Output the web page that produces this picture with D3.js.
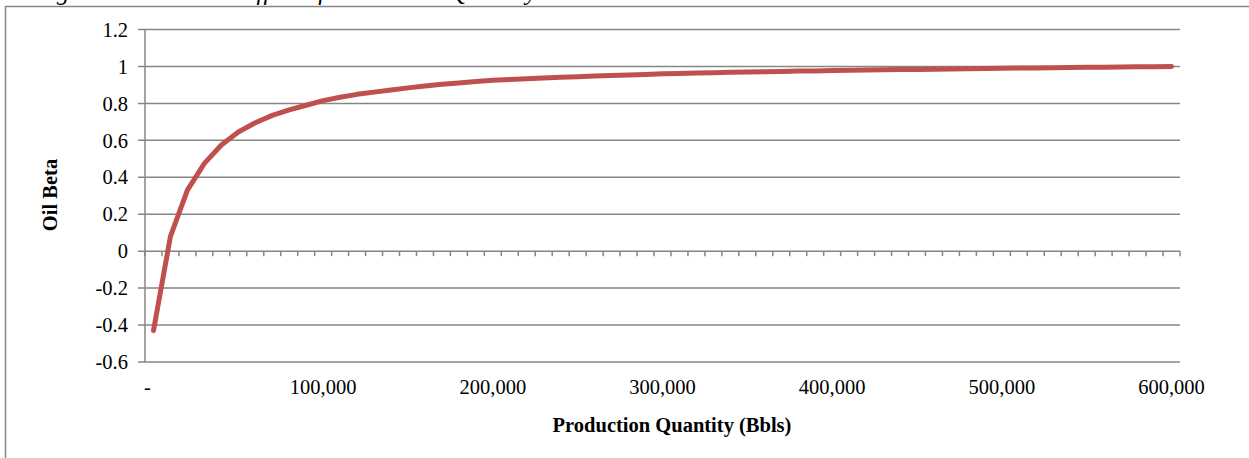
<!DOCTYPE html>
<html lang="en">
<head>
  <meta charset="UTF-8">
  <title>Oil Beta vs Production Quantity</title>
  <script src="https://d3js.org/d3.v7.min.js"></script>
  <style>
    body { margin: 0; background: #fff; }
    svg { display: block; font-family: "Liberation Serif", "Times New Roman", serif; }
  </style>
</head>
<body>
  <svg id="chart"></svg>
  <script>
    // production quantity categories (Bbls)
    const quantity = [
      0, 10000, 20000, 30000, 40000, 50000, 60000, 70000, 80000, 90000,
      100000, 110000, 120000, 130000, 140000, 150000, 160000, 170000, 180000, 190000,
      200000, 210000, 220000, 230000, 240000, 250000, 260000, 270000, 280000, 290000,
      300000, 310000, 320000, 330000, 340000, 350000, 360000, 370000, 380000, 390000,
      400000, 410000, 420000, 430000, 440000, 450000, 460000, 470000, 480000, 490000,
      500000, 510000, 520000, 530000, 540000, 550000, 560000, 570000, 580000, 590000,
      600000
    ];
    // oil beta
    const oilBeta = [
      -0.430, 0.080, 0.330, 0.475, 0.575, 0.645, 0.695, 0.735, 0.765, 0.790,
      0.815, 0.833, 0.849, 0.861, 0.873, 0.884, 0.894, 0.903, 0.911, 0.918,
      0.925, 0.929, 0.933, 0.937, 0.941, 0.944, 0.948, 0.951, 0.954, 0.957,
      0.960, 0.962, 0.964, 0.966, 0.968, 0.970, 0.971, 0.973, 0.975, 0.976,
      0.978, 0.979, 0.981, 0.982, 0.983, 0.984, 0.985, 0.986, 0.987, 0.989,
      0.990, 0.991, 0.992, 0.993, 0.994, 0.995, 0.996, 0.997, 0.998, 0.999,
      1.000
    ];
    const yTicks = [-0.6, -0.4, -0.2, 0, 0.2, 0.4, 0.6, 0.8, 1, 1.2];
    const yLabels = ["-0.6", "-0.4", "-0.2", "0", "0.2", "0.4", "0.6", "0.8", "1", "1.2"];
    const xLabelValues = [0, 100000, 200000, 300000, 400000, 500000, 600000];
    const xLabels = ["-", "100,000", "200,000", "300,000", "400,000", "500,000", "600,000"];

    const width = 1249, height = 458;
    const plot = { left: 145, right: 1180, top: 29.5, bottom: 362 };
    const grey = "#868686";

    const svg = d3.select("#chart")
      .attr("width", width)
      .attr("height", height);

    // figure caption, mostly cut off by the top edge
    svg.append("text")
      .attr("x", 668)
      .attr("y", 0)
      .attr("text-anchor", "end")
      .attr("font-style", "italic")
      .attr("font-size", 25)
      .attr("fill", "#000")
      .text("Figure 4: Simulated Effect of Production Quantity on Oil Betas");

    // chart area border
    svg.append("rect")
      .attr("x", 5.5).attr("y", 6.5)
      .attr("width", 1400).attr("height", 600)
      .attr("fill", "none")
      .attr("stroke", grey)
      .attr("stroke-width", 1.5);

    const xScale = d3.scaleBand()
      .domain(quantity)
      .range([plot.left, plot.right])
      .padding(0);

    const yScale = d3.scaleLinear()
      .domain([-0.6, 1.2])
      .range([plot.bottom, plot.top]);

    const xc = d => xScale(d) + xScale.bandwidth() / 2;

    // horizontal gridlines
    svg.append("g")
      .selectAll("line")
      .data(yTicks)
      .join("line")
      .attr("x1", plot.left - 7)
      .attr("x2", plot.right)
      .attr("y1", d => yScale(d))
      .attr("y2", d => yScale(d))
      .attr("stroke", grey)
      .attr("stroke-width", 1.5);

    // y axis line
    svg.append("line")
      .attr("x1", plot.left).attr("x2", plot.left)
      .attr("y1", plot.top).attr("y2", plot.bottom)
      .attr("stroke", grey)
      .attr("stroke-width", 1.5);

    // y tick labels
    svg.append("g")
      .selectAll("text")
      .data(yTicks)
      .join("text")
      .attr("x", 128)
      .attr("y", d => yScale(d))
      .attr("dy", "0.35em")
      .attr("text-anchor", "end")
      .attr("font-size", 20.5)
      .text((d, i) => yLabels[i]);

    // category tick marks along the zero line
    const tickPos = quantity.map(d => xScale(d)).concat([plot.right]);
    svg.append("g")
      .selectAll("line")
      .data(tickPos)
      .join("line")
      .attr("x1", d => d).attr("x2", d => d)
      .attr("y1", yScale(0))
      .attr("y2", yScale(0) + 5)
      .attr("stroke", grey)
      .attr("stroke-width", 1.5);

    // x labels (every 10th category)
    svg.append("g")
      .selectAll("text")
      .data(xLabelValues)
      .join("text")
      .attr("x", (d, i) => i === 0 ? xc(d) - 6 : xc(d))
      .attr("y", 394)
      .attr("text-anchor", "middle")
      .attr("font-size", 20.5)
      .text((d, i) => xLabels[i]);

    // the curve
    const line = d3.line()
      .x((d, i) => xc(quantity[i]))
      .y(d => yScale(d));

    svg.append("path")
      .datum(oilBeta)
      .attr("d", line)
      .attr("fill", "none")
      .attr("stroke", "#C0504D")
      .attr("stroke-width", 5)
      .attr("stroke-linejoin", "round")
      .attr("stroke-linecap", "round");

    // axis titles
    svg.append("text")
      .attr("transform", `translate(57,195) rotate(-90)`)
      .attr("text-anchor", "middle")
      .attr("font-size", 20.5)
      .attr("font-weight", "bold")
      .text("Oil Beta");

    svg.append("text")
      .attr("x", 672)
      .attr("y", 432)
      .attr("text-anchor", "middle")
      .attr("font-size", 20.5)
      .attr("font-weight", "bold")
      .text("Production Quantity (Bbls)");
  </script>
</body>
</html>
